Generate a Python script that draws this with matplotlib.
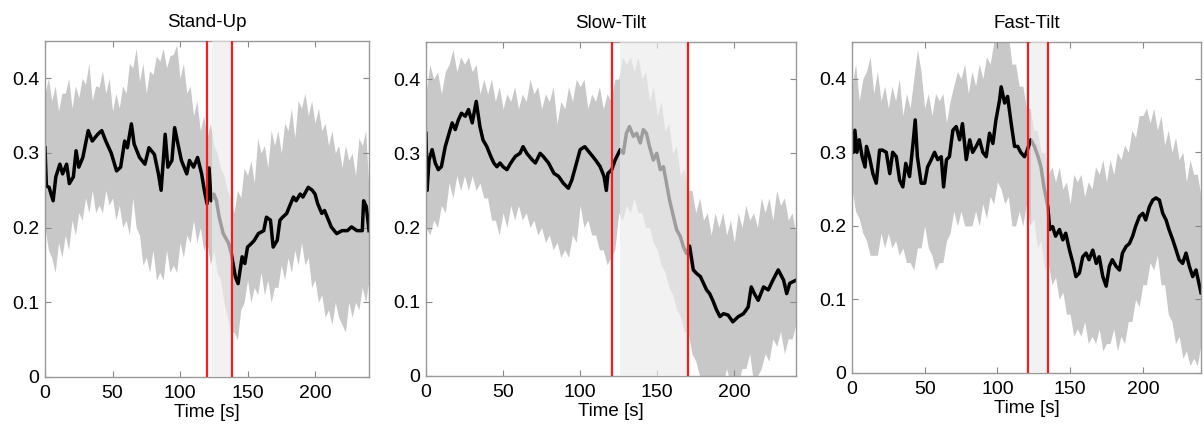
import numpy as np
import matplotlib
matplotlib.use("Agg")
import matplotlib.pyplot as plt

plt.rcParams['font.family'] = ['Liberation Sans', 'DejaVu Sans']

titles = ['Stand-Up', 'Slow-Tilt', 'Fast-Tilt']

# band (mean +/- std): mid values every 5 s, spike values half-way between
band_t = list(range(0, 241, 5))
spike_t = [x + 2.5 for x in range(0, 240, 5)]

# ---- Stand-Up ----
su_t = [0, 1, 3, 6, 8, 11, 13, 16, 18, 21, 23, 25, 28, 32, 35, 39, 42, 45, 49, 53,
        56, 59, 61, 64, 66, 70, 74, 77, 81, 84, 86, 89, 91, 94, 96, 98, 101, 105, 107, 110,
        113, 116, 118, 120, 121.5, 123, 125, 127, 129, 132, 136, 138, 141, 143, 146, 148, 150, 153, 155, 158,
        162, 164, 167, 169, 172, 174, 176, 179, 181, 184, 186, 189, 191, 195, 198, 200, 202, 205, 207, 210,
        212, 216, 220, 224, 227, 231, 235, 236, 238, 240]
su_mean = [0.307, 0.256, 0.254, 0.236, 0.268, 0.285, 0.272, 0.285, 0.259, 0.268, 0.303, 0.281, 0.294, 0.33, 0.316,
           0.325, 0.33, 0.316, 0.30, 0.276, 0.281, 0.316, 0.307, 0.339, 0.312, 0.294, 0.285, 0.307, 0.298, 0.272,
           0.25, 0.325, 0.281, 0.29, 0.334, 0.316, 0.29, 0.272, 0.29, 0.281, 0.294, 0.272, 0.25, 0.232, 0.28,
           0.236, 0.245, 0.236, 0.214, 0.192, 0.179, 0.165, 0.134, 0.125, 0.161, 0.152, 0.174, 0.179, 0.183, 0.192,
           0.196, 0.214, 0.21, 0.174, 0.183, 0.21, 0.214, 0.219, 0.228, 0.241, 0.236, 0.245, 0.241, 0.254, 0.25,
           0.245, 0.232, 0.219, 0.223, 0.21, 0.201, 0.192, 0.196, 0.196, 0.201, 0.196, 0.196, 0.236, 0.228, 0.196]
su_upper = [0.38, 0.37, 0.356, 0.38, 0.36, 0.374, 0.392, 0.37, 0.388, 0.38, 0.356, 0.36, 0.38, 0.414, 0.396,
            0.38, 0.405, 0.423, 0.414, 0.432, 0.40, 0.38, 0.35, 0.33, 0.32,
            0.31, 0.28, 0.25, 0.22, 0.24, 0.27, 0.26, 0.30, 0.28, 0.31, 0.30, 0.33, 0.32, 0.36, 0.35,
            0.34, 0.33, 0.31, 0.30, 0.28, 0.29, 0.27, 0.31, 0.25]
su_lower = [0.20, 0.16, 0.18, 0.19, 0.21, 0.22, 0.24, 0.25, 0.23, 0.25, 0.24, 0.23, 0.21, 0.24, 0.19,
            0.16, 0.17, 0.14, 0.17, 0.15, 0.18, 0.19, 0.21, 0.20, 0.18,
            0.17, 0.13, 0.08, 0.06, 0.09, 0.13, 0.12, 0.14, 0.13, 0.12, 0.15, 0.16, 0.17, 0.18, 0.16,
            0.13, 0.11, 0.09, 0.10, 0.07, 0.10, 0.10, 0.12, 0.13]
su_upper_pk = [0.40, 0.39, 0.38, 0.40, 0.39, 0.40, 0.42, 0.39, 0.41, 0.40, 0.38, 0.39, 0.42, 0.44, 0.42,
               0.41, 0.43, 0.44, 0.43, 0.445, 0.42, 0.39, 0.37, 0.35, 0.34,
               0.30, 0.27, 0.24, 0.25, 0.28, 0.29, 0.32, 0.31, 0.33, 0.33, 0.34, 0.36, 0.37, 0.38, 0.37,
               0.36, 0.34, 0.33, 0.31, 0.31, 0.30, 0.32, 0.33]
su_lower_pk = [0.17, 0.14, 0.16, 0.17, 0.19, 0.21, 0.22, 0.22, 0.22, 0.23, 0.21, 0.20, 0.19, 0.20, 0.15,
               0.14, 0.13, 0.13, 0.14, 0.14, 0.16, 0.18, 0.18, 0.17, 0.15,
               0.14, 0.10, 0.06, 0.05, 0.10, 0.10, 0.11, 0.11, 0.10, 0.12, 0.13, 0.14, 0.15, 0.15, 0.12,
               0.10, 0.08, 0.07, 0.08, 0.06, 0.08, 0.09, 0.10]

# ---- Slow-Tilt ----
st_t = [0, 0.7, 2, 4, 6, 8, 10, 12.5, 15, 17, 19, 21, 23, 25.5, 27.6, 30, 32.6, 35, 37, 39.5,
        42, 44, 46, 48, 50, 52.5, 55, 58, 61, 63, 65.4, 69, 71, 74, 76, 79.5, 83, 86, 89, 92.4,
        94.6, 97, 100, 103, 106.5, 110, 113, 115.5, 117, 118, 120.5, 122.7, 126, 128, 130, 132, 134.5, 136.7, 139, 141,
        143, 145, 147.5, 149.7, 152, 154, 156, 158, 160.5, 162.6, 165, 167, 169, 171, 173.4, 175.6, 178, 180, 182, 184,
        186, 188.5, 190.7, 193, 196, 199, 202.6, 206, 209, 211, 213, 215.5, 219, 222, 225, 228.5, 232, 234, 236, 240]
st_mean = [0.327, 0.25, 0.291, 0.305, 0.287, 0.278, 0.282, 0.309, 0.327, 0.341, 0.332, 0.345, 0.354, 0.35, 0.359,
           0.341, 0.37, 0.336, 0.318, 0.309, 0.296, 0.287, 0.282, 0.287, 0.282, 0.278, 0.287, 0.296, 0.30, 0.309,
           0.30, 0.291, 0.287, 0.30, 0.296, 0.287, 0.273, 0.269, 0.26, 0.253, 0.264, 0.282, 0.305, 0.309, 0.30,
           0.291, 0.282, 0.269, 0.25, 0.273, 0.278, 0.291, 0.305, 0.30, 0.327, 0.336, 0.323, 0.327, 0.314, 0.332,
           0.327, 0.309, 0.291, 0.30, 0.278, 0.282, 0.26, 0.237, 0.215, 0.197, 0.188, 0.174, 0.165, 0.175, 0.143,
           0.138, 0.134, 0.125, 0.116, 0.111, 0.102, 0.089, 0.08, 0.084, 0.082, 0.073, 0.08, 0.084, 0.093, 0.12,
           0.111, 0.102, 0.12, 0.116, 0.129, 0.143, 0.129, 0.111, 0.125, 0.129]
st_upper = [0.38, 0.40, 0.38, 0.42, 0.41, 0.42, 0.41, 0.38, 0.38, 0.37, 0.36, 0.37, 0.36, 0.37, 0.38,
            0.36, 0.37, 0.34, 0.36, 0.37, 0.39, 0.36, 0.37, 0.36, 0.37,
            0.40, 0.42, 0.41, 0.40, 0.37, 0.35, 0.33, 0.30, 0.27, 0.25, 0.22, 0.21, 0.19, 0.20, 0.19,
            0.18, 0.20, 0.21, 0.20, 0.22, 0.21, 0.23, 0.21, 0.19]
st_lower = [0.20, 0.21, 0.23, 0.26, 0.27, 0.27, 0.27, 0.26, 0.24, 0.21, 0.22, 0.23, 0.23, 0.22, 0.21,
            0.20, 0.19, 0.18, 0.17, 0.19, 0.23, 0.21, 0.19, 0.17, 0.16,
            0.22, 0.23, 0.24, 0.22, 0.20, 0.17, 0.14, 0.11, 0.08, 0.06, 0.02, 0.0, -0.01, 0.0, 0.01,
            0.0, 0.01, 0.03, 0.0, 0.03, 0.05, 0.06, 0.05, 0.07]
st_upper_pk = [0.42, 0.41, 0.41, 0.44, 0.43, 0.43, 0.42, 0.40, 0.40, 0.39, 0.38, 0.39, 0.38, 0.40, 0.39,
               0.38, 0.39, 0.37, 0.39, 0.40, 0.40, 0.38, 0.39, 0.38, 0.40,
               0.43, 0.43, 0.43, 0.41, 0.39, 0.37, 0.34, 0.31, 0.28, 0.25, 0.24, 0.22, 0.22, 0.22, 0.21,
               0.22, 0.23, 0.22, 0.24, 0.24, 0.25, 0.24, 0.22]
st_lower_pk = [0.19, 0.20, 0.22, 0.24, 0.25, 0.25, 0.25, 0.24, 0.21, 0.19, 0.20, 0.21, 0.21, 0.20, 0.19,
               0.18, 0.17, 0.16, 0.16, 0.18, 0.20, 0.19, 0.17, 0.15, 0.17,
               0.21, 0.22, 0.22, 0.20, 0.18, 0.15, 0.12, 0.09, 0.06, 0.03, 0.0, -0.02, -0.02, -0.01, -0.01,
               -0.01, 0.01, -0.01, 0.01, 0.02, 0.04, 0.03, 0.05]

# ---- Fast-Tilt ----
ft_t = [0, 1, 2, 3.4, 5, 7, 9, 10, 12, 14.4, 16.7, 19, 21, 23.6, 26, 28, 30.5, 32.8, 35, 37,
        39.6, 42, 43.5, 45, 47.6, 50, 52, 54.5, 56.8, 59, 61.4, 63, 65, 67, 69.4, 71.7, 74, 76, 78.6, 81,
        83, 85.4, 87.7, 90, 92.3, 94.6, 96.9, 99, 101.5, 102.6, 105, 107, 109.5, 111.8, 114, 116, 118.6, 120, 123, 125.5,
        128, 130, 132, 134.7, 136, 138, 140, 142.7, 145, 147, 149.6, 152, 154, 156.4, 158.7, 161, 163, 165.6, 168, 170,
        172.5, 174.8, 177, 179, 181.6, 184, 186, 188.5, 190.8, 193, 195, 197.7, 200, 202, 204.5, 206.8, 209, 211.4, 213.7, 216,
        218, 220.6, 222.9, 225, 227.4, 229.7, 232, 234.3, 236.6, 240]
ft_mean = [0.326, 0.30, 0.33, 0.30, 0.317, 0.294, 0.28, 0.308, 0.294, 0.271, 0.258, 0.303, 0.303, 0.30, 0.271,
           0.30, 0.294, 0.262, 0.253, 0.285, 0.267, 0.312, 0.344, 0.294, 0.258, 0.258, 0.28, 0.29, 0.30, 0.29,
           0.294, 0.253, 0.29, 0.294, 0.33, 0.335, 0.317, 0.339, 0.29, 0.317, 0.30, 0.308, 0.317, 0.30, 0.294,
           0.326, 0.312, 0.344, 0.371, 0.389, 0.367, 0.376, 0.339, 0.308, 0.308, 0.30, 0.294, 0.30, 0.317, 0.308,
           0.294, 0.28, 0.253, 0.226, 0.195, 0.199, 0.186, 0.195, 0.181, 0.19, 0.167, 0.149, 0.131, 0.136, 0.158,
           0.163, 0.154, 0.167, 0.149, 0.158, 0.131, 0.118, 0.145, 0.154, 0.145, 0.14, 0.163, 0.172, 0.176, 0.186,
           0.199, 0.213, 0.217, 0.208, 0.226, 0.235, 0.238, 0.235, 0.217, 0.208, 0.195, 0.181, 0.167, 0.154, 0.149,
           0.163, 0.145, 0.131, 0.14, 0.109]
ft_upper = [0.39, 0.37, 0.41, 0.38, 0.37, 0.36, 0.37, 0.35, 0.36, 0.44, 0.36, 0.35, 0.37, 0.34, 0.39,
            0.40, 0.38, 0.39, 0.40, 0.42, 0.45, 0.46, 0.42, 0.39, 0.36,
            0.33, 0.30, 0.27, 0.26, 0.25, 0.23, 0.26, 0.24, 0.25, 0.27, 0.26, 0.27, 0.29, 0.30, 0.32,
            0.35, 0.34, 0.33, 0.31, 0.30, 0.29, 0.26, 0.27, 0.24]
ft_lower = [0.25, 0.21, 0.18, 0.16, 0.19, 0.19, 0.18, 0.17, 0.15, 0.17, 0.20, 0.16, 0.15, 0.18, 0.22,
            0.22, 0.20, 0.22, 0.23, 0.24, 0.26, 0.23, 0.20, 0.22, 0.23,
            0.21, 0.18, 0.15, 0.13, 0.11, 0.08, 0.06, 0.07, 0.05, 0.06, 0.04, 0.06, 0.05, 0.07, 0.10,
            0.12, 0.15, 0.16, 0.12, 0.07, 0.05, 0.03, 0.02, 0.04]
ft_upper_pk = [0.42, 0.40, 0.43, 0.41, 0.39, 0.39, 0.40, 0.38, 0.40, 0.41, 0.38, 0.38, 0.38, 0.37, 0.41,
               0.42, 0.41, 0.42, 0.43, 0.45, 0.47, 0.46, 0.42, 0.39, 0.36,
               0.33, 0.30, 0.28, 0.28, 0.26, 0.27, 0.27, 0.26, 0.28, 0.29, 0.29, 0.30, 0.31, 0.33, 0.35,
               0.36, 0.36, 0.35, 0.33, 0.32, 0.30, 0.29, 0.27]
ft_lower_pk = [0.22, 0.19, 0.16, 0.16, 0.17, 0.17, 0.16, 0.15, 0.14, 0.17, 0.17, 0.14, 0.15, 0.19, 0.20,
               0.20, 0.20, 0.20, 0.21, 0.23, 0.25, 0.24, 0.20, 0.20, 0.20,
               0.17, 0.14, 0.12, 0.10, 0.08, 0.05, 0.05, 0.04, 0.04, 0.03, 0.04, 0.03, 0.04, 0.07, 0.09,
               0.12, 0.14, 0.12, 0.08, 0.04, 0.02, 0.01, 0.01]

# event markers (red lines) and the shaded transition window
red_lines = [(120, 138.5), (120.5, 170), (121, 134.7)]
windows = [(124, 138.5), (126, 170), (123, 134.7)]

panels = [(su_t, su_mean, su_upper, su_lower, su_upper_pk, su_lower_pk),
          (st_t, st_mean, st_upper, st_lower, st_upper_pk, st_lower_pk),
          (ft_t, ft_mean, ft_upper, ft_lower, ft_upper_pk, ft_lower_pk)]

# axes boxes in figure fractions
boxes = [[0.0374, 0.1233, 0.2691, 0.7814],
         [0.3538, 0.1256, 0.3073, 0.7767],
         [0.7076, 0.1326, 0.2899, 0.7698]]

fig = plt.figure(figsize=(12.04, 4.30), dpi=100)

for i, (t, m, up, lo, up_pk, lo_pk) in enumerate(panels):
    ax = fig.add_axes(boxes[i])

    # merge mid values and spikes into one jagged band
    bx = np.array(band_t + spike_t, dtype=float)
    order = np.argsort(bx)
    bu = np.array(up + up_pk)[order]
    bl = np.array(lo + lo_pk)[order]
    ax.fill_between(bx[order], bl, bu, color='#c8c8c8', lw=0, zorder=1)

    ax.plot(t, m, color='black', lw=2.5, zorder=2)
    a, b = windows[i]
    ax.axvspan(a, b, color='#ececec', alpha=0.67, lw=0, zorder=3)
    for x in red_lines[i]:
        ax.axvline(x, color='#ff1a1a', lw=1.6, zorder=4)

    ax.set_xlim(0, 240)
    ax.set_ylim(0, 0.45)
    ax.set_xticks([0, 50, 100, 150, 200])
    ax.set_yticks([0, 0.1, 0.2, 0.3, 0.4])
    ax.set_yticklabels(['0', '0.1', '0.2', '0.3', '0.4'])
    ax.tick_params(direction='in', length=4, width=0.8, color='#888888',
                   top=True, right=True, labelsize=14, pad=4)
    ax.tick_params(axis='x', pad=6)
    for s in ax.spines.values():
        s.set_color('#999999')
        s.set_linewidth(1.0)
    ax.set_title(titles[i], fontsize=13.5, pad=10)
    ax.set_xlabel('Time [s]', fontsize=13.5, labelpad=1)

fig.savefig('out.png', dpi=100)
